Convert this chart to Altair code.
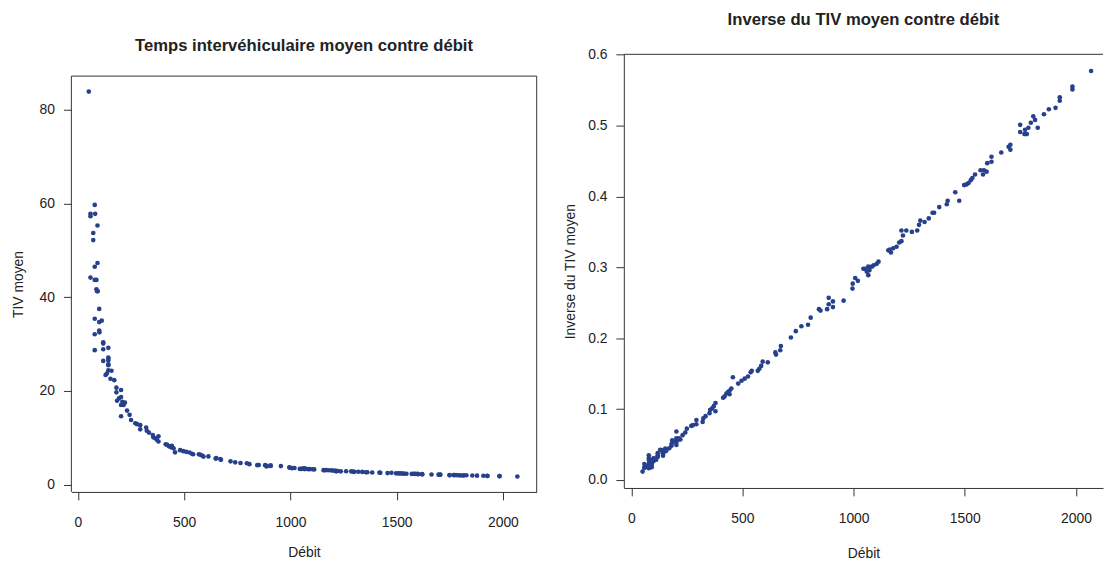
import altair as alt
import pandas as pd

# Points (low flows, TIV readable)
debit_g = [51, 79, 59, 81, 59, 92, 72, 72, 92, 79, 59, 79, 87, 87, 90, 93, 100, 79, 100, 112,
           79, 100, 101, 119, 119, 79, 119, 143, 119, 143, 143, 143, 143, 143, 143, 158, 136, 130, 153, 171,
           181, 203, 181, 203, 193, 184, 209, 221, 203, 215, 203, 231, 243, 250, 270, 278, 293, 293, 321, 324,
           334, 352, 355, 364, 371, 379, 379]
tiv_g = [83.9, 59.7, 57.8, 57.8, 57.3, 55.3, 53.7, 52.2, 47.3, 46.5, 44.2, 43.7, 43.7, 41.7, 41.3, 41.3, 37.5, 35.4, 34.7, 35.0,
         32.1, 32.9, 32.5, 30.4, 30.1, 28.7, 28.9, 29.2, 26.4, 26.9, 25.7, 27.1, 26.5, 25.5, 24.4, 24.3, 23.7, 23.4, 22.6, 22.3,
         20.7, 20.2, 19.7, 18.7, 18.4, 17.9, 17.7, 17.5, 17.0, 17.0, 14.6, 15.8, 14.9, 13.8, 13.1, 12.9, 12.7, 11.8, 12.2, 11.5,
         11.1, 10.6, 10.1, 9.9, 9.6, 9.2, 10.3]

# Points (higher flows, inverse readable)
debit_d = [413, 420, 428, 435, 442, 442, 450, 457, 481, 496,
           510, 525, 537, 542, 569, 576, 584, 591, 614, 648,
           651, 670, 673, 718, 740, 765, 795, 807, 844, 851,
           881, 888, 888, 907, 907, 955, 995, 996, 1007, 1019,
           1044, 1052, 1059, 1066, 1066, 1071, 1082, 1090, 1104, 1112,
           1156, 1163, 1168, 1178, 1193, 1205, 1215, 1215, 1222, 1237,
           1262, 1286, 1294, 1300, 1319, 1338, 1355, 1362, 1385, 1419,
           1423, 1457, 1475, 1497, 1508, 1517, 1527, 1534, 1546, 1571,
           1582, 1586, 1598, 1601, 1620, 1620, 1664, 1697, 1705, 1705,
           1749, 1749, 1768, 1771, 1779, 1786, 1797, 1808, 1816, 1828,
           1856, 1878, 1908, 1927, 1927, 1984, 1984, 2068]
inv_d = [0.116, 0.118, 0.122, 0.124, 0.126, 0.121, 0.129, 0.145, 0.136, 0.140,
         0.143, 0.146, 0.152, 0.154, 0.154, 0.157, 0.161, 0.167, 0.166, 0.180,
         0.177, 0.183, 0.189, 0.201, 0.210, 0.217, 0.219, 0.229, 0.241, 0.239,
         0.241, 0.257, 0.248, 0.252, 0.244, 0.253, 0.270, 0.277, 0.285, 0.281,
         0.298, 0.298, 0.294, 0.301, 0.289, 0.296, 0.301, 0.303, 0.305, 0.308,
         0.324, 0.325, 0.321, 0.327, 0.329, 0.335, 0.337, 0.352, 0.345, 0.352,
         0.350, 0.352, 0.360, 0.366, 0.364, 0.369, 0.377, 0.377, 0.385, 0.389,
         0.394, 0.406, 0.394, 0.416, 0.417, 0.419, 0.423, 0.426, 0.431, 0.437,
         0.431, 0.437, 0.435, 0.447, 0.449, 0.456, 0.462, 0.470, 0.473, 0.466,
         0.501, 0.491, 0.488, 0.494, 0.488, 0.497, 0.504, 0.513, 0.508, 0.497,
         0.516, 0.523, 0.525, 0.540, 0.535, 0.555, 0.551, 0.577]

x_ticks = [0, 500, 1000, 1500, 2000]
y_ticks_left = [0, 20, 40, 60, 80]
y_ticks_right = [0.0, 0.1, 0.2, 0.3, 0.4, 0.5, 0.6]

rows = [{"debit": d, "tiv": t, "inv": 1.0 / t} for d, t in zip(debit_g, tiv_g)]
rows += [{"debit": d, "tiv": 1.0 / v, "inv": v} for d, v in zip(debit_d, inv_d)]
df = pd.DataFrame(rows)

FONT = "Liberation Sans"
COL = "#27408B"
TXT = "#222222"
LINE = "#333333"
TITLE_SIZE = 16.8


def axis(values, title, pad, fmt, domain=False, label_pad=9):
    return alt.Axis(values=values, title=title, format=fmt, grid=False, domain=domain,
                    domainColor=LINE, tickColor=LINE, tickSize=8, labelFont=FONT,
                    labelFontSize=14, labelColor=TXT, labelPadding=label_pad, titleFont=FONT,
                    titleFontSize=14, titleFontWeight="normal", titleColor=TXT,
                    titlePadding=pad, labelAngle=0)


def frame_rule(x1, x2, y1, y2):
    return alt.Chart(alt.Data(values=[{"a": 1}])).mark_rule(color=LINE, strokeWidth=1).encode(
        x=alt.value(x1), x2=alt.value(x2), y=alt.value(y1), y2=alt.value(y2))


# Left panel: plot box sits 22px lower than the right one
WL, HL, SHIFT = 470, 442, 22
left_pts = alt.Chart(df).mark_circle(size=22, color=COL, opacity=1).encode(
    x=alt.X("debit:Q", scale=alt.Scale(domain=[-31, 2159], nice=False, zero=False),
            axis=axis(x_ticks, "Débit", 16, "d", domain=True, label_pad=16)),
    y=alt.Y("tiv:Q", scale=alt.Scale(domain=[-1.56, 87.2], nice=False, zero=False, range=[HL, SHIFT]),
            axis=axis(y_ticks_left, "TIV moyen", 14, "d")),
)
left = alt.layer(
    left_pts,
    frame_rule(0, WL, SHIFT, SHIFT),
    frame_rule(0, 0, SHIFT, HL),
    frame_rule(WL, WL, SHIFT, HL),
).properties(
    width=WL, height=HL,
    view=alt.ViewBackground(stroke="transparent"),
    title=alt.TitleParams("Temps intervéhiculaire moyen contre débit", font=FONT, fontSize=TITLE_SIZE,
                          fontWeight="bold", color=TXT, offset=19, dy=19),
)

# Right panel (its right border falls just outside the picture)
WR, HR = 484, 438
right_pts = alt.Chart(df).mark_circle(size=22, color=COL, opacity=1).encode(
    x=alt.X("debit:Q", scale=alt.Scale(domain=[-33.4, -33.4 + WR / 0.2246], nice=False, zero=False),
            axis=axis(x_ticks, "Débit", 21, "d", domain=True, label_pad=16)),
    y=alt.Y("inv:Q", scale=alt.Scale(domain=[-0.0112, 0.6005], nice=False, zero=False),
            axis=axis(y_ticks_right, "Inverse du TIV moyen", 10, ".1f", domain=True)),
)
right = alt.layer(right_pts, frame_rule(0, WR, 0, 0)).properties(
    width=WR, height=HR,
    view=alt.ViewBackground(stroke="transparent"),
    title=alt.TitleParams("Inverse du TIV moyen contre débit", font=FONT, fontSize=TITLE_SIZE,
                          fontWeight="bold", color=TXT, offset=19),
)

chart = alt.hconcat(left, right, spacing=26).properties(
    padding={"left": 2, "top": 1, "right": 0, "bottom": 0},
    background="white",
).configure_view(stroke="transparent")

chart.save("out.html", embed_options={"renderer": "svg", "actions": False})
